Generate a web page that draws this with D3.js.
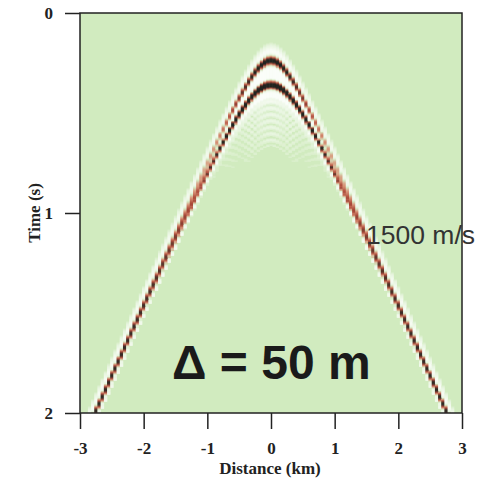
<!DOCTYPE html>
<html>
<head>
<meta charset="utf-8">
<script src="https://cdn.jsdelivr.net/npm/d3@7"></script>
<style>
  body { margin: 0; background: #fff; }
  .axis text { font: bold 17px "Liberation Serif", "DejaVu Serif", serif; fill: #222; }
  .axis line { stroke: #222; stroke-width: 1.5; }
</style>
</head>
<body>
<div id="graphic"></div>
<script>
// tick labels
let xTickValues = [-3, -2, -1, 0, 1, 2, 3];
let yTickValues = [0, 1, 2];

// the two reflection events (apex time s, relative strength)
let eventT0 = [0.238, 0.36];
let eventAmp = [0.95, 1.1];
// apparent moveout velocity in plot units (km/s), fitted to the flanks
let eventVelocity = [1.40, 1.40];

// trace sampling: one trace every 50 m from -3 km to 3 km
let traceSpacing = 0.05;
let firstTrace = -3, lastTrace = 3;
let sampleStep = 0.005; // s

let width = 489, height = 480;

let svg = d3.select("#graphic")
  .append("svg")
    .attr("width", width)
    .attr("height", height);

let x = d3.scaleLinear().domain([-3, 3]).range([80, 462]);
let y = d3.scaleLinear().domain([0, 2]).range([13, 413]);

// plot background
svg.append("rect")
  .attr("x", x(-3)).attr("y", y(0))
  .attr("width", x(3) - x(-3)).attr("height", y(2) - y(0))
  .attr("fill", "#d1ebbf");

svg.append("clipPath").attr("id", "plotclip")
  .append("rect")
  .attr("x", x(-3)).attr("y", y(0))
  .attr("width", x(3) - x(-3)).attr("height", y(2) - y(0));

let defs = svg.append("defs");
defs.append("filter").attr("id", "soft")
  .append("feGaussianBlur").attr("stdDeviation", 0.5);

// ricker-ish wavelet with a weak ringing tail
let f = 8.5;
function wavelet(tau) {
  let a = Math.PI * Math.PI * f * f * tau * tau;
  let w = (1 - 2 * a) * Math.exp(-a);
  if (tau > 0.05) {
    w += -0.22 * Math.exp(-(tau - 0.05) / 0.2) * (0.5 + 0.5 * Math.cos(2 * Math.PI * (tau - 0.05) / 0.032));
  }
  return w;
}

// build the cells
let nTraces = Math.round((lastTrace - firstTrace) / traceSpacing);
let cells = [];
for (let i = 0; i <= nTraces; i++) {
  let off = firstTrace + i * traceSpacing;
  let times = eventT0.map((t0, k) => Math.sqrt(t0 * t0 + (off / eventVelocity[k]) ** 2));
  let tmin = d3.min(times) - 0.09, tmax = d3.max(times) + 0.3;
  let s0 = Math.floor(tmin / sampleStep), s1 = Math.ceil(tmax / sampleStep);
  for (let s = s0; s <= s1; s++) {
    let t = s * sampleStep;
    if (t < 0 || t > 2) continue;
    let amp = 0;
    times.forEach((T, k) => {
      let decay = Math.pow(eventT0[k] / T, 0.38);
      let tau = t - T;
      let tail = tau > 0.05 ? Math.pow(eventT0[k] / T, 2.5) : 1;
      amp += eventAmp[k] * decay * wavelet(tau) * tail;
    });
    if (Math.abs(amp) > 0.035) cells.push({off: off, t: t, amp: amp});
  }
}

let color = d3.scaleLinear()
  .domain([-0.45, -0.1, 0, 0.1, 0.3, 0.55, 0.85])
  .range(["#ffffff", "#eaf6e2", "#d1ebbf", "#d8d2b2", "#d98a70", "#a8392c", "#111111"])
  .clamp(true);

let cellW = x(traceSpacing) - x(0);
let cellH = y(sampleStep) - y(0);

svg.append("g")
  .attr("clip-path", "url(#plotclip)")
  .append("g")
  .attr("filter", "url(#soft)")
  .selectAll("rect")
  .data(cells)
  .enter()
  .append("rect")
    .attr("x", d => x(d.off) - cellW / 2)
    .attr("y", d => y(d.t) - cellH / 2)
    .attr("width", cellW + 0.2)
    .attr("height", cellH + 0.3)
    .attr("fill", d => color(d.amp));

// frame
svg.append("rect")
  .attr("x", x(-3)).attr("y", y(0))
  .attr("width", x(3) - x(-3)).attr("height", y(2) - y(0))
  .attr("fill", "none")
  .attr("stroke", "#222")
  .attr("stroke-width", 1.5);

// axes
let xAxis = svg.append("g")
  .attr("class", "axis")
  .attr("transform", "translate(0," + y(2) + ")")
  .call(d3.axisBottom(x).tickValues(xTickValues).tickSize(16).tickSizeOuter(0)
    .tickPadding(13).tickFormat(d => String(d)));
xAxis.select(".domain").remove();

let yAxis = svg.append("g")
  .attr("class", "axis")
  .attr("transform", "translate(" + x(-3) + ",0)")
  .call(d3.axisLeft(y).tickValues(yTickValues).tickSize(15).tickSizeOuter(0)
    .tickPadding(12).tickFormat(d => String(d)));
yAxis.select(".domain").remove();

svg.selectAll(".axis text").attr("font-family", null);

// axis titles
svg.append("text")
  .attr("x", 270).attr("y", 474)
  .attr("text-anchor", "middle")
  .style("font", "bold 17px 'Liberation Serif', serif")
  .attr("fill", "#222")
  .text("Distance (km)");

svg.append("text")
  .attr("transform", "translate(40,213) rotate(-90)")
  .attr("text-anchor", "middle")
  .style("font", "bold 17px 'Liberation Serif', serif")
  .attr("fill", "#222")
  .text("Time (s)");

// annotations
svg.append("text")
  .attr("x", 366).attr("y", 244)
  .style("font", "26.5px 'Liberation Sans', Arial, sans-serif")
  .attr("fill", "#333")
  .text("1500 m/s");

svg.append("text")
  .attr("x", 172).attr("y", 379)
  .style("font", "bold 48px 'Liberation Sans', Arial, sans-serif")
  .attr("fill", "#1a1a1a")
  .text("Δ = 50 m");
</script>
</body>
</html>
